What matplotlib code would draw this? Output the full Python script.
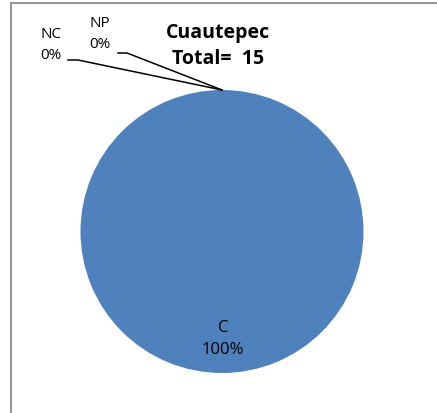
import matplotlib.pyplot as plt
import numpy as np

labels = ['C', 'NC', 'NP']
counts = [15, 0, 0]
total = 15

W, H = 437, 414
fig = plt.figure(figsize=(W / 100, H / 100), dpi=100)
plt.rcParams['font.family'] = ['Open Sans', 'DejaVu Sans']

# frame of the chart area (right/bottom edges fall outside the picture)
fig.patches.append(plt.Rectangle((10.5 / W, -0.1), 1.2, 1 - 3.5 / H + 0.1,
                                 transform=fig.transFigure, fill=False,
                                 ec='#8c8c8c', lw=1.3))

cx, cy, r = 222, 232.5, 141.5
ax = fig.add_axes([(cx - r) / W, (H - cy - r) / H, 2 * r / W, 2 * r / H])

wedges, _ = ax.pie(counts, colors=['#4f81bd', '#c0504d', '#9bbb59'],
                   startangle=90, counterclock=False, radius=1,
                   wedgeprops=dict(lw=0))
ax.set_xlim(-1, 1)
ax.set_ylim(-1, 1)
ax.set_aspect('equal')
ax.axis('off')


def px(x, y):
    return (x - cx) / r, (cy - y) / r


pcts = [100 * c / total for c in counts]

# label inside the big slice
w = wedges[0]
mid = np.deg2rad((w.theta1 + w.theta2) / 2)
lx, ly = px(223, 339)
ax.text(lx, ly, f'{labels[0]}\n{pcts[0]:.0f}%', ha='center', va='center',
        fontsize=12, linespacing=1.45, color='black')

# labels for empty slices with leader lines
text_pos = {'NC': (51, 45), 'NP': (100, 34)}
stub = {'NC': ((68, 61), (78, 61)), 'NP': ((118, 54), (127, 54))}
for lab, pct, w in zip(labels[1:], pcts[1:], wedges[1:]):
    t = np.deg2rad(w.theta1)
    tip = (np.cos(t), np.sin(t))
    tx, ty = px(*text_pos[lab])
    ax.text(tx, ty, f'{lab}\n{pct:.0f}%', ha='center', va='center',
            fontsize=11, linespacing=1.5, clip_on=False)
    a, b = px(*stub[lab][0]), px(*stub[lab][1])
    ax.plot([a[0], b[0], tip[0]], [a[1], b[1], tip[1]], color='black',
            lw=1.1, clip_on=False)

fig.text(218 / W, 1 - 46 / H, f'Cuautepec\nTotal=  {total}', ha='center',
         va='center', fontsize=14, fontweight='bold', linespacing=1.4)

fig.savefig('out.png', dpi=100)
